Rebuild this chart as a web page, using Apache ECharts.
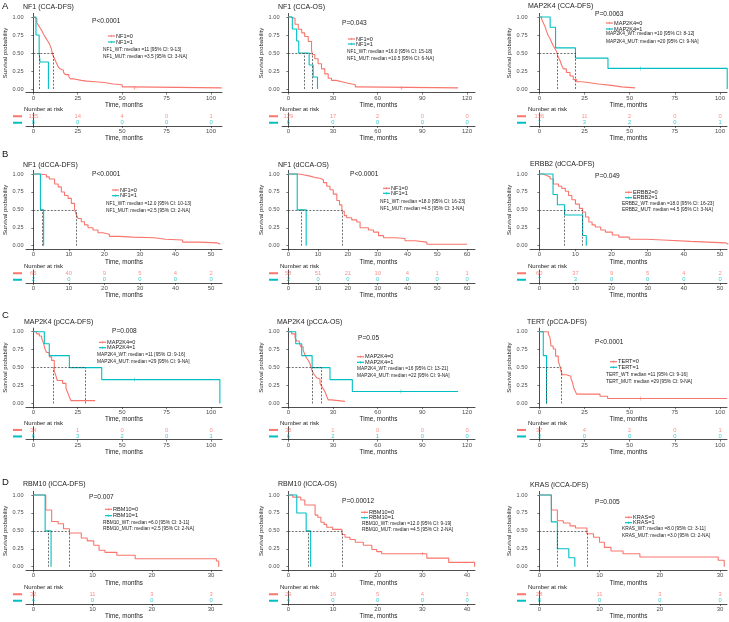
<!DOCTYPE html>
<html><head><meta charset="utf-8">
<script src="https://cdn.jsdelivr.net/npm/echarts@6/dist/echarts.min.js"></script>
<style>html,body{margin:0;padding:0;background:#fff}#c{width:729px;height:622px}</style>
</head><body><div id="c"></div>
<script>
// ---------------- DATA ----------------
const TITLES = ['NF1 (CCA-DFS)','NF1 (CCA-OS)','MAP2K4 (CCA-DFS)','NF1 (dCCA-DFS)','NF1 (dCCA-OS)','ERBB2 (dCCA-DFS)',
  'MAP2K4 (pCCA-DFS)','MAP2K4 (pCCA-OS)','TERT (pCCA-DFS)','RBM10 (iCCA-DFS)','RBM10 (iCCA-OS)','KRAS (iCCA-DFS)'];
const PVALS = ['P<0.0001','P=0.043','P=0.0063','P<0.0001','P<0.0001','P=0.049','P=0.008','P=0.05','P<0.0001','P=0.007','P=0.00012','P=0.005'];
const GENES = ['NF1','NF1','MAP2K4','NF1','NF1','ERBB2','MAP2K4','MAP2K4','TERT','RBM10','RBM10','KRAS'];
const MED_WT_TEXT = ['NF1_WT: median =11 [95% CI: 9-13]','NF1_WT: median =16.0 [95% CI: 15-18]','MAP2K4_WT: median =10 [95% CI: 8-12]',
  'NF1_WT: median =12.0 [95% CI: 10-13]','NF1_WT: median =18.0 [95% CI: 16-23]','ERBB2_WT: median =18.0 [95% CI: 16-23]',
  'MAP2K4_WT: median =11 [95% CI: 9-16]','MAP2K4_WT: median =16 [95% CI: 13-21]','TERT_WT: median =11 [95% CI: 9-16]',
  'RBM10_WT: median =6.0 [95% CI: 3-11]','RBM10_WT: median =12.0 [95% CI: 9-19]','KRAS_WT: median =8.0 [95% CI: 3-11]'];
const MED_MUT_TEXT = ['NF1_MUT: median =3.5 [95% CI: 3-NA]','NF1_MUT: median =10.5 [95% CI: 6-NA]','MAP2K4_MUT: median =20 [95% CI: 9-NA]',
  'NF1_MUT: median =2.5 [95% CI: 2-NA]','NF1_MUT: median =4.5 [95% CI: 3-NA]','ERBB2_MUT: median =4.5 [95% CI: 3-NA]',
  'MAP2K4_MUT: median =29 [95% CI: 9-NA]','MAP2K4_MUT: median =22 [95% CI: 9-NA]','TERT_MUT: median =29 [95% CI: 9-NA]',
  'RBM10_MUT: median =2.5 [95% CI: 2-NA]','RBM10_MUT: median =4.5 [95% CI: 2-NA]','KRAS_MUT: median =3.0 [95% CI: 2-NA]'];

const A1_wt = [[0,1],[1,0.98],[2,0.92],[3,0.88],[4,0.84],[5,0.8],[6,0.75],[7,0.71],[8,0.67],[9,0.63],[10,0.57],[11,0.47],[12,0.42],[13,0.36],[14,0.31],[15,0.28],[16,0.26],[17,0.23],[18,0.2],[20,0.17],[21,0.14],[23,0.12],[27,0.11],[30,0.1],[35,0.09],[40,0.07],[45,0.06],[50,0.03],[56,0.015],[106,0.015]];
const A1_mut = [[0,1],[1.5,0.75],[3.3,0.5],[3.8,0.375],[8.5,0]];
const A1_cens_wt = [[57,0.015]]; const A1_cens_mut = [];
const A1_medians = [11,3.5];
const A1_times = [0,25,50,75,100]; const A1_nWT = [135,14,4,0,1]; const A1_nMUT = [8,0,0,0,0];

const A2_wt = [[0,1],[2,0.98],[4.5,0.9],[6.7,0.83],[9,0.78],[11,0.73],[13.4,0.66],[15.6,0.55],[16,0.48],[17.8,0.42],[20,0.35],[22.3,0.28],[24.5,0.21],[26.8,0.15],[29,0.12],[32,0.1],[36,0.08],[40,0.06],[45,0.03],[47,0.015],[114,0.015]];
const A2_mut = [[0,1],[2.7,0.833],[5.6,0.667],[7,0.5],[14,0.333],[16.7,0.167],[19.6,0]];
const A2_cens_wt = [[76,0.015]]; const A2_cens_mut = [];
const A2_medians = [16,10.5];
const A2_times = [0,30,60,90,120]; const A2_nWT = [129,17,2,0,0]; const A2_nMUT = [6,0,0,0,0];

const A3_wt = [[0,1],[1.3,0.97],[2.2,0.92],[3.1,0.87],[4,0.8],[5,0.74],[5.9,0.7],[6.8,0.65],[7.7,0.6],[8.7,0.56],[9.6,0.52],[10.3,0.45],[11.4,0.4],[12.4,0.33],[13.3,0.28],[15,0.23],[17,0.18],[18.8,0.13],[20.7,0.1],[23.4,0.09],[27,0.07],[32.7,0.05],[40,0.03],[45.6,0.015],[53,0.015]];
const A3_mut = [[0,1],[6,0.857],[9,0.571],[20,0.429],[38,0.286],[104,0]];
const A3_cens_wt = []; const A3_cens_mut = [[56,0.286]];
const A3_medians = [10,20];
const A3_times = [0,25,50,75,100]; const A3_nWT = [136,11,2,0,0]; const A3_nMUT = [7,3,2,0,1];

const B1_wt = [[0,1],[1.5,0.99],[3.7,0.96],[4.5,0.93],[6,0.86],[7,0.82],[7.9,0.75],[8.8,0.7],[9.8,0.66],[10.7,0.59],[11.6,0.51],[12.1,0.43],[12.6,0.38],[13.5,0.335],[14.4,0.29],[15.4,0.25],[16.8,0.22],[18.2,0.18],[19.6,0.16],[21.4,0.13],[24.2,0.12],[28,0.11],[34,0.09],[37.2,0.08],[42,0.05],[46.6,0.04],[51.7,0.02],[52.6,0.02]];
const B1_mut = [[0,1],[2,0.5],[2.9,0]];
const B1_cens_wt = []; const B1_cens_mut = [];
const B1_medians = [12,2.5];
const B1_times = [0,10,20,30,40,50]; const B1_nWT = [65,40,9,5,4,2]; const B1_nMUT = [2,0,0,0,0,0];

const B2_wt = [[0,1],[3.4,0.99],[5,0.97],[7.3,0.95],[9,0.94],[10.6,0.92],[11.8,0.88],[12.9,0.83],[14,0.78],[15.1,0.72],[16.3,0.63],[17.2,0.57],[18,0.48],[18.8,0.42],[19.6,0.39],[21.3,0.36],[23,0.33],[24.1,0.25],[26.9,0.22],[28.6,0.19],[30.3,0.14],[32,0.11],[35.9,0.1],[39.2,0.07],[42.6,0.05],[46.5,0.02],[60,0.02]];
const B2_mut = [[0,1],[3,0.5],[6,0]];
const B2_cens_wt = []; const B2_cens_mut = [];
const B2_medians = [18,4.5];
const B2_times = [0,10,20,30,40,50,60]; const B2_nWT = [58,51,21,10,4,1,1]; const B2_nMUT = [2,0,0,0,0,0,0];

const B3_wt = [[0,1],[1.1,0.98],[2,0.96],[3,0.93],[3.9,0.86],[5.3,0.83],[6.2,0.8],[7.2,0.76],[8.1,0.7],[9,0.64],[10,0.58],[11.1,0.52],[12,0.47],[12.8,0.4],[13.7,0.33],[14.6,0.29],[15.5,0.26],[17,0.22],[18.3,0.19],[20.2,0.15],[22,0.12],[24.9,0.09],[29.5,0.08],[34.2,0.06],[41.8,0.04],[51.5,0.02],[52.3,0.02]];
const B3_mut = [[0,1],[3.8,0.714],[5,0.571],[7,0.429],[12,0.143],[13,0]];
const B3_cens_wt = []; const B3_cens_mut = [];
const B3_medians = [12,7];
const B3_times = [0,10,20,30,40,50]; const B3_nWT = [60,37,9,5,4,2]; const B3_nMUT = [7,3,0,0,0,0];

const C1_wt = [[0,1],[1.9,0.97],[3.4,0.94],[4.7,0.91],[5.6,0.85],[6.6,0.76],[7.5,0.71],[9,0.65],[10.3,0.6],[11.8,0.45],[12.8,0.38],[13.5,0.32],[16.5,0.28],[18.4,0.21],[19.4,0.15],[20.3,0.09],[21.2,0.04],[34.8,0.04]];
const C1_mut = [[0,1],[6.2,0.833],[9,0.667],[20.3,0.5],[38.5,0.333],[105,0]];
const C1_cens_wt = []; const C1_cens_mut = [[57,0.333]];
const C1_medians = [11,29];
const C1_times = [0,25,50,75,100]; const C1_nWT = [34,1,0,0,0]; const C1_nMUT = [6,3,2,0,1];

const C2_wt = [[0,1],[2.2,0.97],[4.5,0.92],[5.6,0.87],[7.4,0.84],[8.5,0.79],[10,0.74],[11.2,0.68],[12.3,0.63],[13.5,0.6],[14.6,0.55],[15.7,0.47],[16.8,0.42],[17.9,0.39],[19,0.36],[20.2,0.34],[21.3,0.28],[22.4,0.24],[23.6,0.2],[24.7,0.16],[25.8,0.1],[26.9,0.05],[29,0.03],[38,0.03]];
const C2_mut = [[0,1],[5,0.833],[9,0.667],[16,0.5],[28,0.333],[43,0.167],[114,0.167]];
const C2_cens_wt = []; const C2_cens_mut = [[75.6,0.167]];
const C2_medians = [16,22];
const C2_times = [0,30,60,90,120]; const C2_nWT = [38,1,0,0,0]; const C2_nMUT = [6,2,1,0,0];

const C3_wt = [[0,1],[5,0.97],[5.9,0.92],[6.5,0.8],[7.7,0.76],[9,0.66],[10.5,0.59],[11.4,0.52],[12,0.45],[12.7,0.4],[15,0.38],[17.5,0.35],[18.3,0.3],[19,0.22],[19.7,0.18],[20.7,0.13],[33.6,0.1],[37.8,0.07],[104,0.07]];
const C3_mut = [[0,1],[2.2,0.667],[4,0]];
const C3_cens_wt = [[56,0.07]]; const C3_cens_mut = [];
const C3_medians = [12,4];
const C3_times = [0,25,50,75,100]; const C3_nWT = [37,4,2,0,1]; const C3_nMUT = [3,0,0,0,0];

const D1_wt = [[0,1],[2.1,0.79],[3.1,0.63],[4.2,0.6],[5.1,0.53],[6.1,0.47],[8.1,0.4],[9.1,0.36],[10.2,0.3],[11.1,0.23],[12.1,0.2],[14.1,0.16],[17.2,0.11],[30.9,0.08],[31.3,0]];
const D1_mut = [[0,1],[2,0.5],[3,0]];
const D1_cens_wt = []; const D1_cens_mut = [];
const D1_medians = [6,2.5];
const D1_times = [0,10,20,30]; const D1_nWT = [32,11,3,3]; const D1_nMUT = [4,0,0,0];

const D2_wt = [[0,1],[1,0.97],[2.8,0.93],[3.7,0.86],[6,0.72],[6.6,0.69],[7.3,0.62],[8,0.59],[8.6,0.55],[9.9,0.52],[12,0.45],[12.7,0.41],[13.8,0.38],[15,0.34],[16.8,0.3],[18.7,0.24],[19.8,0.21],[20.9,0.18],[31,0.12],[35.9,0.06],[41.7,0]];
const D2_mut = [[0,1],[1.9,0.75],[4,0.5],[5,0]];
const D2_cens_wt = [[30,0.18]]; const D2_cens_mut = [];
const D2_medians = [12,4.5];
const D2_times = [0,10,20,30,40]; const D2_nWT = [29,16,5,4,1]; const D2_nMUT = [4,0,0,0,0];

const D3_wt = [[0,1],[2,0.79],[3,0.64],[4,0.61],[5.1,0.57],[6,0.54],[7.9,0.46],[9,0.41],[10,0.34],[10.8,0.27],[11.9,0.22],[13.9,0.18],[16.7,0.135],[29.7,0.09],[30.7,0]];
const D3_mut = [[0,1],[2,0.625],[3,0.25],[4.9,0.125],[5.9,0]];
const D3_cens_wt = []; const D3_cens_mut = [];
const D3_medians = [8,3];
const D3_times = [0,10,20,30]; const D3_nWT = [28,11,3,3]; const D3_nMUT = [8,0,0,0];

const Y_TICKS = [0,0.25,0.5,0.75,1];
const LETTERS = ['A','B','C','D'];

// ---------------- LAYOUT ----------------
const RED = '#F8766D', TEAL = '#00BFC4';
const FONT = 'Liberation Sans, Arial, Helvetica, sans-serif';
const COLS = [{L:26,Z:33.3,P:211,R:222},{L:282,Z:288.3,P:467,R:475},{L:530,Z:539.3,P:720,R:727}];
const ROWS = [{y1:17,y0:89,ra:126,nar:109,let:6.5},{y1:174,y0:245.7,ra:283,nar:266.7,let:154},{y1:331.7,y0:403.5,ra:439.7,nar:423.3,let:315.5},{y1:495,y0:566.7,ra:604,nar:587.3,let:482.5}];
const LAY = [
 {t:[23,7],   p:[92,21],   lg:[108,36,42],   md:[103,50,57]},
 {t:[278,7],  p:[342,23],  lg:[348,39,44],   md:[347,52,59]},
 {t:[528,6],  p:[595,14],  lg:[606,23,29],   md:[606,34,42]},
 {t:[23,165], p:[92,174],  lg:[112,190,195.7], md:[106,203.3,210.3]},
 {t:[278,165],p:[350,174], lg:[383,188.3,193.3], md:[380,201.7,208.3]},
 {t:[530,164],p:[595,175.7],lg:[625,192.3,197.7], md:[622,203.3,210]},
 {t:[24,322], p:[112,331], lg:[99,342.3,347.7], md:[97,354.3,361.7]},
 {t:[277,322],p:[358,337.7],lg:[357,356.7,362.3], md:[357,368.3,376]},
 {t:[527,322],p:[595,342.3],lg:[610,361.7,367.3], md:[606,375,381.7]},
 {t:[23,484], p:[89,497.3], lg:[105,509.3,515.7], md:[103,522.3,529]},
 {t:[278,484],p:[342,500.7],lg:[361,512.3,517.7], md:[362,523.3,530]},
 {t:[530,485],p:[595,502.3],lg:[625,517.3,522.7], md:[622,529,536]}
];

const PANELS = [
 [A1_wt,A1_mut,A1_medians,A1_times,A1_nWT,A1_nMUT,A1_cens_wt,A1_cens_mut],
 [A2_wt,A2_mut,A2_medians,A2_times,A2_nWT,A2_nMUT,A2_cens_wt,A2_cens_mut],
 [A3_wt,A3_mut,A3_medians,A3_times,A3_nWT,A3_nMUT,A3_cens_wt,A3_cens_mut],
 [B1_wt,B1_mut,B1_medians,B1_times,B1_nWT,B1_nMUT,B1_cens_wt,B1_cens_mut],
 [B2_wt,B2_mut,B2_medians,B2_times,B2_nWT,B2_nMUT,B2_cens_wt,B2_cens_mut],
 [B3_wt,B3_mut,B3_medians,B3_times,B3_nWT,B3_nMUT,B3_cens_wt,B3_cens_mut],
 [C1_wt,C1_mut,C1_medians,C1_times,C1_nWT,C1_nMUT,C1_cens_wt,C1_cens_mut],
 [C2_wt,C2_mut,C2_medians,C2_times,C2_nWT,C2_nMUT,C2_cens_wt,C2_cens_mut],
 [C3_wt,C3_mut,C3_medians,C3_times,C3_nWT,C3_nMUT,C3_cens_wt,C3_cens_mut],
 [D1_wt,D1_mut,D1_medians,D1_times,D1_nWT,D1_nMUT,D1_cens_wt,D1_cens_mut],
 [D2_wt,D2_mut,D2_medians,D2_times,D2_nWT,D2_nMUT,D2_cens_wt,D2_cens_mut],
 [D3_wt,D3_mut,D3_medians,D3_times,D3_nWT,D3_nMUT,D3_cens_wt,D3_cens_mut]
];

const grid = [], xAxis = [], yAxis = [], series = [], graphic = [];
const AX = '#222', LBL = '#4d4d4d';
const PLUS = 'path://M4.3,0h1.4v10h-1.4z M0,4.3h10v1.4h-10z';
function txt(x, y, s, size, color) {
  graphic.push({type:'text', x:x, y:y, silent:true,
    style:{text:s, fontSize:size, fontFamily:FONT, fill:color||'#222', verticalAlign:'middle', align:'left'}});
}
function seg(x1,y1,x2,y2,color,w){
  graphic.push({type:'line', silent:true, shape:{x1:x1,y1:y1,x2:x2,y2:y2}, style:{stroke:color, lineWidth:w}});
}

PANELS.forEach((pd, i) => {
  const [wt, mut, med, times, nWT, nMUT, cWT, cMUT] = pd;
  const r = Math.floor(i/3), c = i%3;
  const col = COLS[c], row = ROWS[r], lay = LAY[i];
  const tmax = times[times.length-1];
  const s = (col.P - col.Z) / tmax;
  const xmin = (col.L - col.Z) / s, xmax = (col.R - col.Z) / s;
  const h = row.y0 - row.y1;
  const gP = grid.length;
  grid.push({left: col.L, width: col.R - col.L, top: row.y1 - 0.05*h, height: 1.1*h});
  grid.push({left: col.L, width: col.R - col.L, top: row.ra - 13, height: 13});
  const xBase = {type:'value', min:xmin, max:xmax, splitLine:{show:false},
    axisLine:{show:true, onZero:false, lineStyle:{color:AX, width:0.8}},
    axisTick:{show:true, customValues:times, length:2, lineStyle:{color:AX, width:0.6}},
    axisLabel:{customValues:times, fontSize:6, margin:2.5, color:LBL, fontFamily:FONT},
    name:'Time, months', nameLocation:'middle', nameGap:9.5,
    nameTextStyle:{fontSize:6.3, color:'#222', fontFamily:FONT}};
  xAxis.push(Object.assign({}, xBase, {gridIndex:gP}));
  xAxis.push(Object.assign({}, xBase, {gridIndex:gP+1}));
  yAxis.push({gridIndex:gP, type:'value', min:-0.05, max:1.05, splitLine:{show:false},
    axisLine:{show:true, lineStyle:{color:AX, width:0.8}},
    axisTick:{show:true, customValues:Y_TICKS, length:2, lineStyle:{color:AX, width:0.6}},
    axisLabel:{customValues:Y_TICKS, fontSize:5.6, margin:2.5, color:LBL, fontFamily:FONT, formatter:v=>v.toFixed(2)},
    name:'Survival probability', nameLocation:'middle', nameGap:17, nameRotate:90,
    nameTextStyle:{fontSize:6, color:'#222', fontFamily:FONT}});
  yAxis.push({gridIndex:gP+1, type:'category', data:['wt','mut'], inverse:true, boundaryGap:true,
    axisLine:{show:true, lineStyle:{color:AX, width:0.8}}, axisTick:{show:false},
    axisLabel:{interval:0, hideOverlap:false, margin:4, formatter:v => v==='wt' ? '{r|}' : '{t|}',
      rich:{r:{width:9, height:2, backgroundColor:RED}, t:{width:9, height:2, backgroundColor:TEAL}}}});
  const mmax = Math.max(med[0], med[1]);
  const dash = {type:[2,1.5], color:'#333', width:0.7};
  series.push({type:'line', step:'end', xAxisIndex:gP, yAxisIndex:gP, data:wt, showSymbol:false, silent:true,
    lineStyle:{color:RED, width:1.1}, itemStyle:{color:RED}, z:3,
    markLine:{silent:true, symbol:'none', label:{show:false}, lineStyle:dash, animation:false,
      data:[[{coord:[0,0.5]},{coord:[mmax,0.5]}],[{coord:[med[0],0]},{coord:[med[0],0.5]}],[{coord:[med[1],0]},{coord:[med[1],0.5]}]]}});
  series.push({type:'line', step:'end', xAxisIndex:gP, yAxisIndex:gP, data:mut, showSymbol:false, silent:true,
    lineStyle:{color:TEAL, width:1.1}, itemStyle:{color:TEAL}, z:4});
  [[cWT,RED],[cMUT,TEAL]].forEach(([arr,colr]) => {
    if (arr.length) series.push({type:'scatter', xAxisIndex:gP, yAxisIndex:gP, symbol:PLUS, symbolSize:4, silent:true,
      itemStyle:{color:colr}, data:arr, z:5});
  });
  [[nWT,'wt',RED],[nMUT,'mut',TEAL]].forEach(([arr,cat,colr]) => {
    series.push({type:'scatter', xAxisIndex:gP+1, yAxisIndex:gP+1, symbolSize:1, silent:true,
      itemStyle:{color:'rgba(0,0,0,0)'},
      data: times.map((t,k)=>[t,cat,arr[k]]),
      label:{show:true, position:'inside', formatter:p=>String(p.value[2]), fontSize:5.8, color:colr, fontFamily:FONT}});
  });
  txt(lay.t[0], lay.t[1], TITLES[i], 7, '#222');
  txt(lay.p[0], lay.p[1], PVALS[i], 6.6, '#222');
  seg(lay.lg[0], lay.lg[1], lay.lg[0]+7, lay.lg[1], RED, 1.2);
  seg(lay.lg[0]+3.5, lay.lg[1]-1.2, lay.lg[0]+3.5, lay.lg[1]+1.2, RED, 0.6);
  seg(lay.lg[0], lay.lg[2], lay.lg[0]+7, lay.lg[2], TEAL, 1.2);
  seg(lay.lg[0]+3.5, lay.lg[2]-1.2, lay.lg[0]+3.5, lay.lg[2]+1.2, TEAL, 0.6);
  txt(lay.lg[0]+8, lay.lg[1], GENES[i]+'=0', 5.6, '#222');
  txt(lay.lg[0]+8, lay.lg[2], GENES[i]+'=1', 5.6, '#222');
  txt(lay.md[0], lay.md[1], MED_WT_TEXT[i], 4.8, '#222');
  txt(lay.md[0], lay.md[2], MED_MUT_TEXT[i], 4.8, '#222');
  txt(col.L - 2, row.nar, 'Number at risk', 6, '#222');
});
ROWS.forEach((row, r) => txt(2, row.let, LETTERS[r], 9.5, '#111'));

const chart = echarts.init(document.getElementById('c'), null, {renderer:'canvas'});
chart.setOption({animation:false, backgroundColor:'#fff', grid, xAxis, yAxis, series, graphic});
</script></body></html>
